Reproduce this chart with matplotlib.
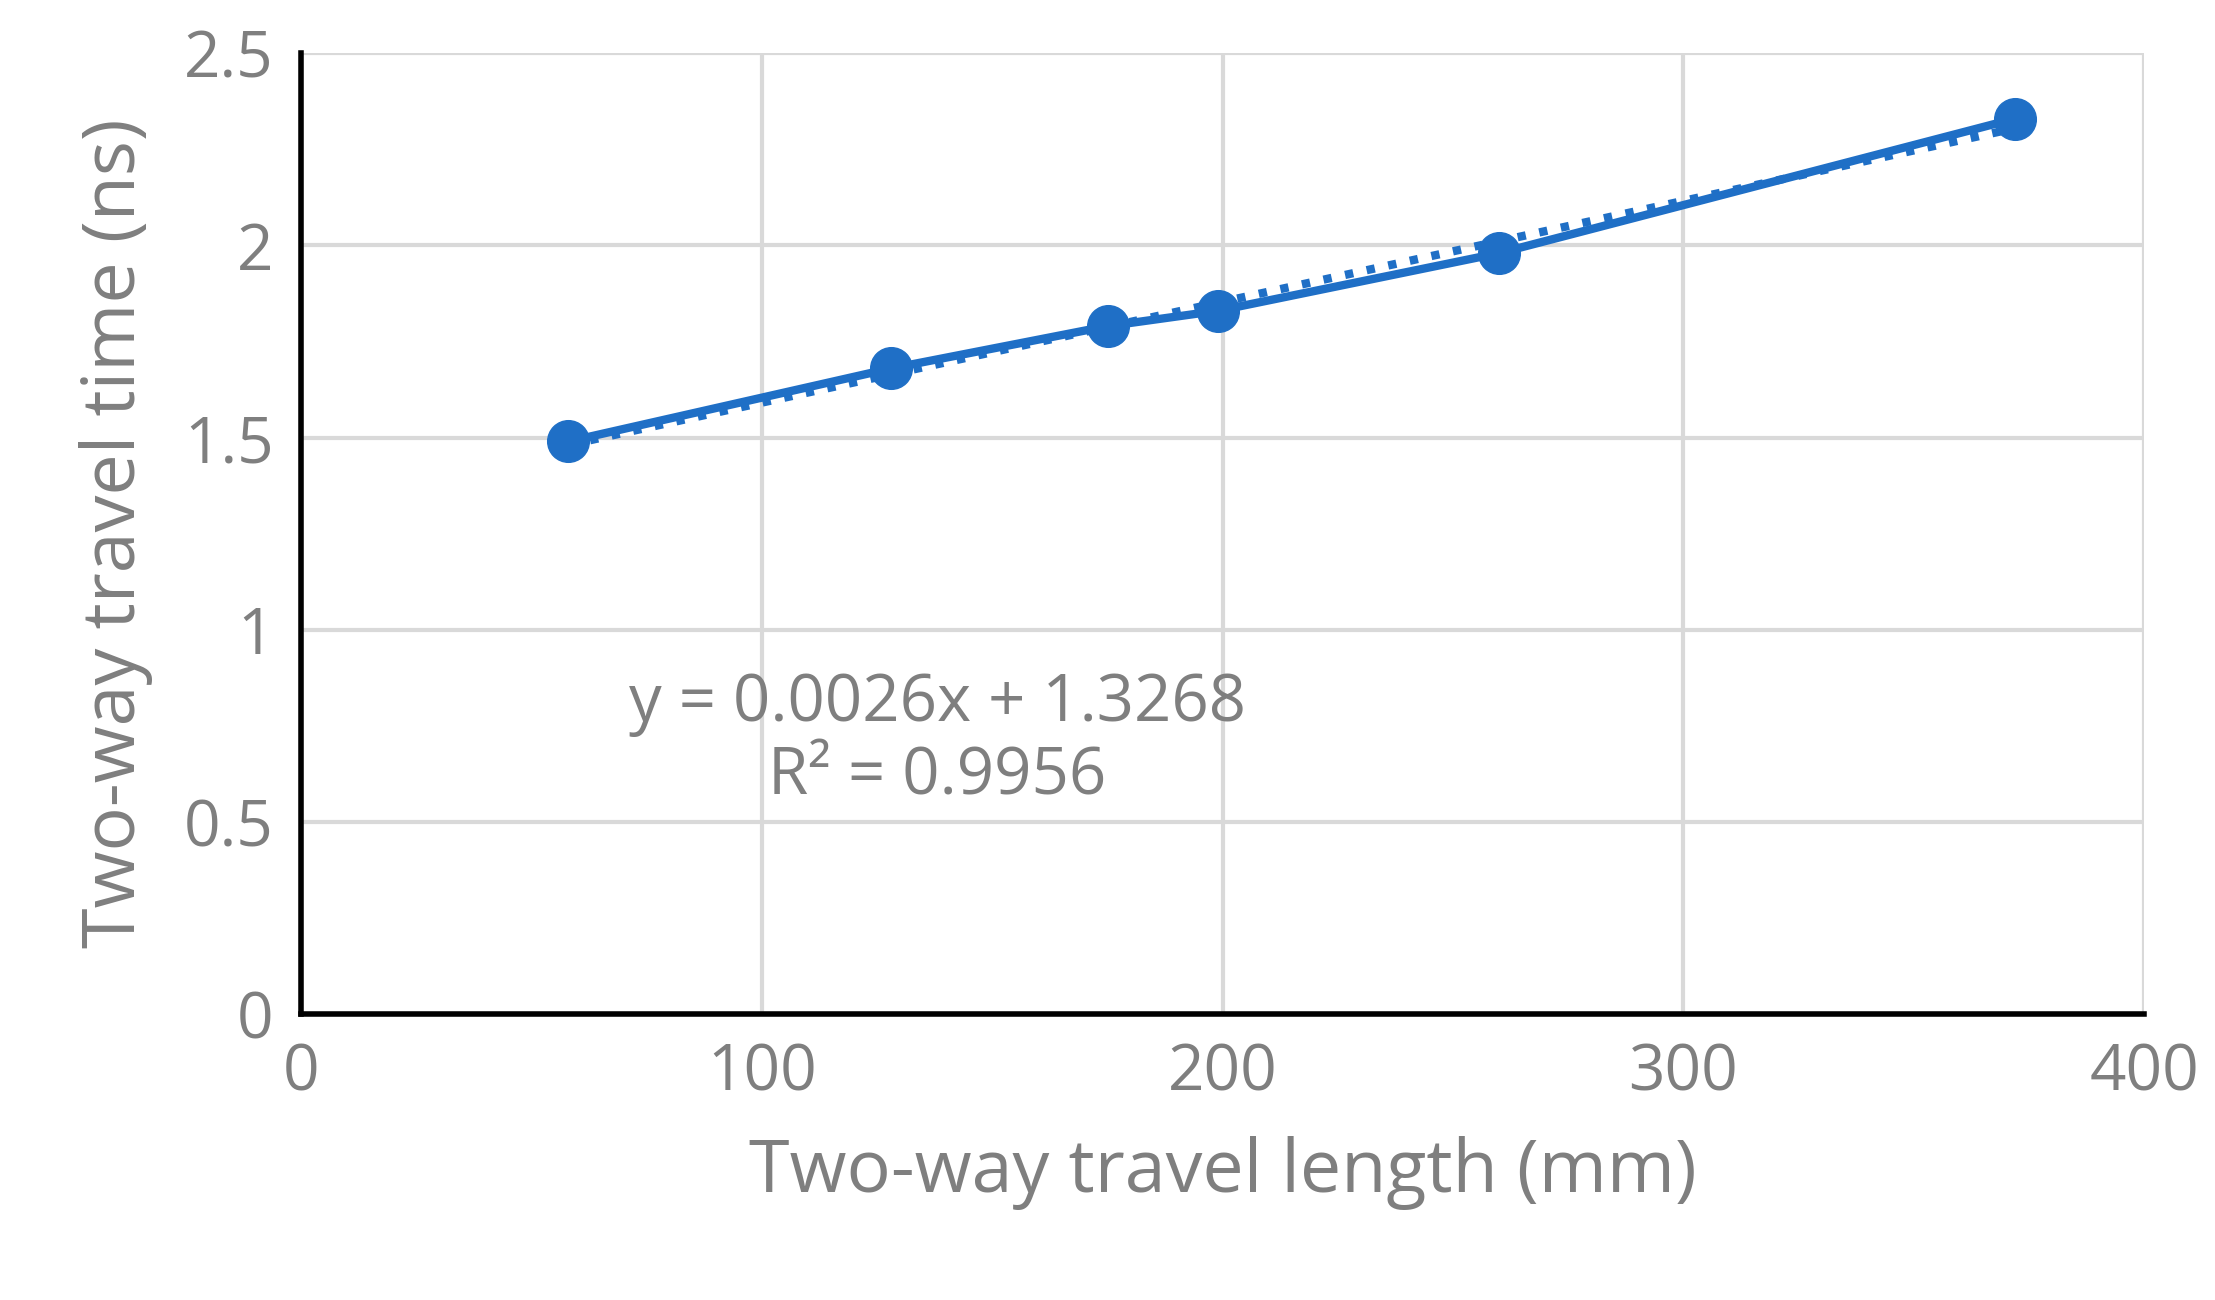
import matplotlib
matplotlib.use("Agg")
import matplotlib.pyplot as plt
import numpy as np

x_vals = [58, 128, 175, 199, 260, 372]
y_vals = [1.49, 1.68, 1.79, 1.83, 1.98, 2.33]
x_ticks = [0, 100, 200, 300, 400]
y_ticks = [0, 0.5, 1, 1.5, 2, 2.5]
y_tick_labels = ["0", "0.5", "1", "1.5", "2", "2.5"]

plt.rcParams['font.family'] = ['Open Sans', 'DejaVu Sans']
grey = '#7f7f7f'
blue = '#1f6fc6'

fig = plt.figure(figsize=(22.15, 13.0), dpi=100)
ax = fig.add_axes([0.136, 0.22, 0.832, 0.739])
ax.plot(x_vals, y_vals, '-o', color=blue, lw=6, markersize=30, zorder=3)
coef = np.polyfit(x_vals, y_vals, 1)
xs = np.array([min(x_vals), max(x_vals)])
ax.plot(xs, coef[0]*xs + coef[1], ':', color=blue, lw=6, zorder=2)
ax.set_xlim(0, 400)
ax.set_ylim(0, 2.5)
ax.set_xticks(x_ticks)
ax.set_yticks(y_ticks)
ax.set_yticklabels(y_tick_labels)
ax.grid(True, color='#d9d9d9', lw=3)
ax.set_axisbelow(True)
for s in ['top', 'right']:
    ax.spines[s].set_visible(False)
for s in ['left', 'bottom']:
    ax.spines[s].set_linewidth(4)
    ax.spines[s].set_color('black')
ax.tick_params(length=0, labelsize=46, colors=grey, pad=20)
ax.set_xlabel("Two-way travel length (mm)", fontsize=53, color=grey, labelpad=22)
ax.set_ylabel("Two-way travel time (ns)", fontsize=53, color=grey, labelpad=22)
ax.text(138, 0.71, "y = 0.0026x + 1.3268\nR² = 0.9956", fontsize=47, color=grey,
        ha='center', va='center', linespacing=1.15)
fig.savefig("out.png", dpi=100)
